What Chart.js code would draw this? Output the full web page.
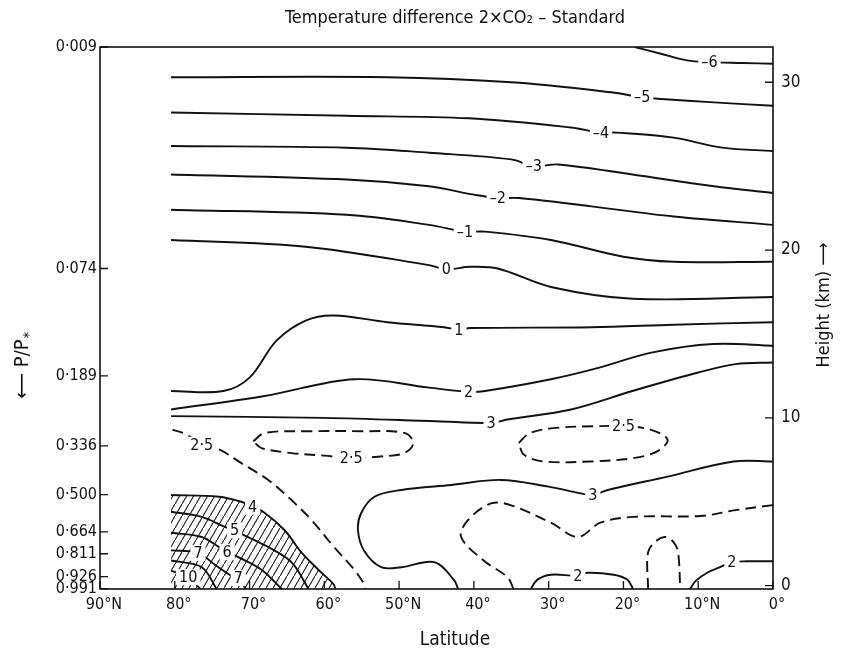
<!DOCTYPE html>
<html>
<head>
<meta charset="utf-8">
<script src="https://cdn.jsdelivr.net/npm/chart.js@4.4.1/dist/chart.umd.min.js"></script>
<style>
  html, body { margin: 0; padding: 0; background: #fff; }
</style>
</head>
<body>
<canvas id="graphique" width="848" height="656"></canvas>
<script>
const POLICE = "'DejaVu Sans Condensed', 'Liberation Sans Narrow', 'DejaVu Sans', sans-serif";
const ENCRE = '#111';

// axes
const latTicks = [90, 80, 70, 60, 50, 40, 30, 20, 10, 0];
const latLabels = ['90°N', '80°', '70°', '60°', '50°N', '40°', '30°', '20°', '10°N', '0°'];
const sigmaHeights = [32.1, 18.9, 12.5, 8.33, 5.42, 3.21, 1.9, 0.54, -0.18];
const sigmaLabels = ['0·009', '0·074', '0·189', '0·336', '0·500', '0·664', '0·811', '0·926', '0·991'];
const heightTicks = [0, 10, 20, 30];
const Y_MIN = -0.2, Y_MAX = 32.1;

// isolignes : [latitude, hauteur km]
const iso_m6 = [[18.5, 32.1], [15, 31.7], [11.5, 31.3], [8.5, 31.2], [4, 31.15], [0, 31.1]];
const iso_m5 = [[80.5, 30.3], [51.5, 30.3], [35, 30.0], [21.6, 29.4], [17.5, 29.1], [14.9, 29.0], [7.9, 28.8], [0, 28.6]];
const iso_m4 = [[80.5, 28.2], [57, 28.0], [40.7, 27.85], [27, 27.3], [23, 27.0], [20.9, 27.0], [13.3, 26.7], [6.8, 26.1], [0, 25.9]];
const iso_m3 = [[80.5, 26.2], [57, 26.1], [46, 25.8], [35, 25.4], [32, 25.0], [28.7, 25.1], [18.8, 24.5], [7.9, 23.8], [0, 23.4]];
const iso_m2 = [[80.5, 24.5], [57, 24.2], [46, 23.8], [40, 23.3], [36.8, 23.1], [34, 23.1], [24.3, 22.6], [13.3, 22.0], [0, 21.5]];
const iso_m1 = [[80.5, 22.4], [57, 22.1], [46, 21.5], [41.2, 21.1], [38.5, 21.1], [29.7, 20.6], [20, 19.6], [13.3, 19.3], [0, 19.3]];
const iso_0 = [[80.5, 20.6], [62.5, 20.2], [46, 19.1], [43.7, 18.85], [40.5, 19.0], [36.8, 18.9], [29.7, 17.8], [18.8, 17.1], [0, 17.2]];
const iso_1 = [[80.5, 11.6], [73.5, 11.6], [70, 12.4], [66.4, 14.6], [62.5, 15.8], [58.7, 16.1], [51.6, 15.7], [44, 15.4], [42, 15.25], [40.5, 15.35], [24.3, 15.4], [13.3, 15.55], [0, 15.7]];
const iso_2 = [[80.5, 10.5], [68, 11.3], [56, 12.3], [46, 11.8], [40.7, 11.55], [38.5, 11.6], [29.7, 12.3], [24, 12.9], [16.1, 13.9], [8, 14.4], [0, 14.3]];
const iso_3a = [[80.5, 10.1], [60, 10.0], [45, 9.8], [37.7, 9.7], [35.5, 9.9], [27, 10.5], [18.8, 11.6], [10, 12.7], [5, 13.2], [0, 13.3]];
const iso_3b = [[0, 7.4], [5.3, 7.4], [14.1, 6.5], [22.1, 5.7], [24.1, 5.4], [25.7, 5.5], [30, 5.9], [36.4, 6.3], [43, 6.0], [49.7, 5.7], [53.3, 5.3], [55.1, 4.3], [55.5, 3.3], [54.7, 2.1], [52.4, 1.1], [49.7, 1.1], [45.3, 1.4], [42.7, 0.36], [42.1, -0.2]];
const iso_25a = [[80.3, 9.3], [78.4, 9.0], [76.4, 8.4], [74, 8.1], [71.1, 7.3], [67.5, 6.3], [64.4, 5.1], [61.7, 3.9], [58.7, 2.3], [56, 0.95], [54.8, 0.18], [54.5, -0.2]];
const iso_25b = [[69.5, 8.6], [68, 9.1], [62, 9.2], [55, 9.2], [49.3, 9.1], [48.1, 8.5], [49.3, 7.9], [52.5, 7.7], [56.4, 7.6], [60, 7.75], [64.4, 7.9], [68.4, 8.2], [69.5, 8.6]];
const iso_25c = [[34, 8.5], [32.5, 9.1], [29, 9.4], [24, 9.5], [20, 9.5], [16.4, 9.3], [14.1, 8.7], [15.5, 8.0], [18.7, 7.6], [24.4, 7.4], [30.7, 7.4], [33.3, 7.8], [34, 8.5]];
const iso_25d = [[0, 4.8], [5, 4.5], [9.7, 4.15], [18.7, 4.1], [23.1, 3.75], [26.1, 2.9], [29.7, 3.75], [35.1, 4.8], [37.7, 4.9], [40.8, 3.9], [41.7, 2.9], [38.7, 1.5], [35.5, 0.5], [34.7, -0.2]];
const iso_25e = [[16.7, -0.2], [16.7, 2.0], [15.5, 2.7], [14.4, 2.9], [13.3, 2.6], [12.7, 2.0], [12.4, -0.2]];
const iso_2b = [[32.4, -0.2], [31.5, 0.36], [29.7, 0.65], [26.1, 0.6], [24.8, 0.77], [21.3, 0.65], [19.5, 0.36], [18.7, -0.2]];
const iso_2c = [[11.1, -0.2], [10.3, 0.3], [8.8, 0.77], [7.1, 1.1], [5.5, 1.4], [3.5, 1.45], [0, 1.45]];
const iso_4 = [[80.5, 5.4], [74.1, 5.3], [71.1, 5.0], [69.6, 4.7], [68, 4.35], [65.3, 3.3], [63.1, 2.0], [60.8, 0.95], [58.8, 0.1], [58.5, -0.2]];
const iso_5 = [[80.5, 4.4], [76.4, 4.1], [73.3, 3.5], [72, 3.3], [70.7, 3.0], [67.5, 2.3], [64.4, 1.4], [62.1, -0.2]];
const iso_6 = [[80.5, 3.15], [76.4, 2.9], [74.1, 2.3], [73, 2.0], [71.5, 1.7], [68.4, 0.95], [65.7, -0.2]];
const iso_7 = [[80.5, 2.1], [76.9, 1.95], [74.5, 1.2], [72.5, 0.6], [71.5, 0.45], [70.5, -0.2]];
const iso_8 = [[80.5, 1.5], [76.4, 1.1], [74.4, -0.2]];
const iso_10 = [[80.5, 0.9], [78.2, 0.5], [76.6, -0.2]];

const courbes = [
  { pts: iso_m6, texte: [[3, '–6']] },
  { pts: iso_m5, texte: [[4, '–5']] },
  { pts: iso_m4, texte: [[4, '–4']] },
  { pts: iso_m3, texte: [[4, '–3']] },
  { pts: iso_m2, texte: [[4, '–2']] },
  { pts: iso_m1, texte: [[3, '–1']] },
  { pts: iso_0, texte: [[3, '0']] },
  { pts: iso_1, texte: [[8, '1']] },
  { pts: iso_2, texte: [[4, '2']] },
  { pts: iso_3a, texte: [[3, '3']] },
  { pts: iso_3b, texte: [[4, '3']] },
  { pts: iso_25a, tirets: true, texte: [[2, '2·5']] },
  { pts: iso_25b, tirets: true, texte: [[8, '2·5']] },
  { pts: iso_25c, tirets: true, texte: [[4, '2·5']] },
  { pts: iso_25d, tirets: true },
  { pts: iso_25e, tirets: true },
  { pts: iso_2b, texte: [[3, '2']] },
  { pts: iso_2c, texte: [[4, '2']] },
  { pts: iso_4, hachure: true, texte: [[3, '4']] },
  { pts: iso_5, texte: [[3, '5']] },
  { pts: iso_6, texte: [[3, '6']] },
  { pts: iso_7, texte: [[1, '7'], [4, '7']] },
  { pts: iso_8 },
  { pts: iso_10, texte: [[1, '10']] }
];

// hachures obliques
function creerHachures(ctx) {
  const c = document.createElement('canvas');
  c.width = 7; c.height = 12;
  const g = c.getContext('2d');
  g.strokeStyle = ENCRE;
  g.lineWidth = 1.1;
  g.beginPath();
  g.moveTo(-7, 24);
  g.lineTo(14, -12);
  g.stroke();
  return ctx.createPattern(c, 'repeat');
}

// etiquettes des isolignes
const etiquettes = {
  id: 'etiquettes',
  afterDatasetsDraw(chart) {
    const ctx = chart.ctx;
    const sx = chart.scales.x, sy = chart.scales.y;
    ctx.save();
    ctx.font = '16px ' + POLICE;
    ctx.textAlign = 'center';
    ctx.textBaseline = 'middle';
    chart.data.datasets.forEach(ds => {
      (ds.etiquettes || []).forEach(([i, txt]) => {
        const p = ds.data[i];
        const px = sx.getPixelForValue(p.x);
        const py = sy.getPixelForValue(p.y);
        const w = ctx.measureText(txt).width + 6;
        ctx.fillStyle = '#fff';
        ctx.fillRect(px - w / 2, py - 8, w, 16);
        ctx.fillStyle = ENCRE;
        ctx.fillText(txt, px, py + 1);
      });
    });
    ctx.restore();
  }
};

// cadre, graduations internes, titres
const habillage = {
  id: 'habillage',
  afterDraw(chart) {
    const ctx = chart.ctx;
    const a = chart.chartArea;
    const sx = chart.scales.x, sy = chart.scales.y, sy2 = chart.scales.y2;
    ctx.save();
    ctx.strokeStyle = ENCRE;
    ctx.lineWidth = 1.6;
    ctx.strokeRect(a.left, a.top, a.right - a.left, a.bottom - a.top);
    ctx.lineWidth = 1.3;
    ctx.beginPath();
    latTicks.forEach(v => {
      const px = sx.getPixelForValue(v);
      ctx.moveTo(px, a.bottom); ctx.lineTo(px, a.bottom - 8);
    });
    sigmaHeights.forEach(v => {
      const py = sy.getPixelForValue(v);
      ctx.moveTo(a.left, py); ctx.lineTo(a.left + 8, py);
    });
    heightTicks.forEach(v => {
      const py = sy2.getPixelForValue(v);
      ctx.moveTo(a.right, py); ctx.lineTo(a.right - 8, py);
    });
    ctx.stroke();

    ctx.fillStyle = ENCRE;
    ctx.textAlign = 'center';
    ctx.textBaseline = 'middle';
    ctx.font = '18px ' + POLICE;
    ctx.fillText('Temperature difference 2×CO₂ – Standard', 455, 18);
    ctx.font = '19px ' + POLICE;
    ctx.fillText('Latitude', 455, 640);

    // titre gauche
    ctx.save();
    ctx.translate(23, 365);
    ctx.rotate(-Math.PI / 2);
    ctx.font = '20px ' + POLICE;
    ctx.textAlign = 'left';
    const t1 = '⟵ P/P';
    const w1 = ctx.measureText(t1).width;
    ctx.fillText(t1, -w1 / 2 - 4, 0);
    ctx.font = '14px ' + POLICE;
    ctx.fillText('*', w1 / 2 - 3, 6);
    ctx.restore();

    // titre droite
    ctx.save();
    ctx.translate(824, 305);
    ctx.rotate(-Math.PI / 2);
    ctx.font = '18px ' + POLICE;
    ctx.fillText('Height (km) ⟶', 0, 0);
    ctx.restore();
    ctx.restore();
  }
};

const ctx = document.getElementById('graphique').getContext('2d');
const motif = creerHachures(ctx);

const donnees = courbes.map(c => ({
  data: c.pts.map(([x, y]) => ({ x, y })),
  borderColor: ENCRE,
  borderWidth: 1.9,
  borderDash: c.tirets ? [11, 6] : [],
  pointRadius: 0,
  tension: 0.35,
  fill: c.hachure ? 'start' : false,
  backgroundColor: c.hachure ? motif : 'rgba(0,0,0,0)',
  etiquettes: c.texte || []
}));

const graphique = new Chart(ctx, {
  type: 'line',
  data: { datasets: donnees },
  options: {
    responsive: false,
    animation: false,
    layout: { padding: { top: 47, left: 0, right: 0, bottom: 0 } },
    plugins: { legend: { display: false }, tooltip: { enabled: false }, title: { display: false } },
    scales: {
      x: {
        type: 'linear', reverse: true, min: 0, max: 90,
        afterBuildTicks: s => { s.ticks = latTicks.map(v => ({ value: v })); },
        afterFit: s => { s.height = 67; },
        grid: { display: false, drawTicks: false },
        border: { display: false },
        ticks: {
          autoSkip: false, maxRotation: 0, padding: 6, labelOffset: 4, color: ENCRE,
          font: { family: POLICE, size: 16 },
          callback: (v, i) => latLabels[i]
        }
      },
      y: {
        type: 'linear', position: 'left', min: Y_MIN, max: Y_MAX,
        afterBuildTicks: s => { s.ticks = sigmaHeights.map(v => ({ value: v })); },
        afterFit: s => { s.width = 100; },
        grid: { display: false, drawTicks: false },
        border: { display: false },
        ticks: {
          autoSkip: false, padding: 3, color: ENCRE,
          font: { family: POLICE, size: 16 },
          callback: (v, i) => sigmaLabels[i]
        }
      },
      y2: {
        type: 'linear', position: 'right', min: Y_MIN, max: Y_MAX,
        afterBuildTicks: s => { s.ticks = heightTicks.map(v => ({ value: v })); },
        afterFit: s => { s.width = 75; },
        grid: { display: false, drawTicks: false },
        border: { display: false },
        ticks: {
          autoSkip: false, padding: 8, color: ENCRE,
          font: { family: POLICE, size: 17 },
          callback: v => String(v)
        }
      }
    }
  },
  plugins: [etiquettes, habillage]
});
</script>
</body>
</html>
